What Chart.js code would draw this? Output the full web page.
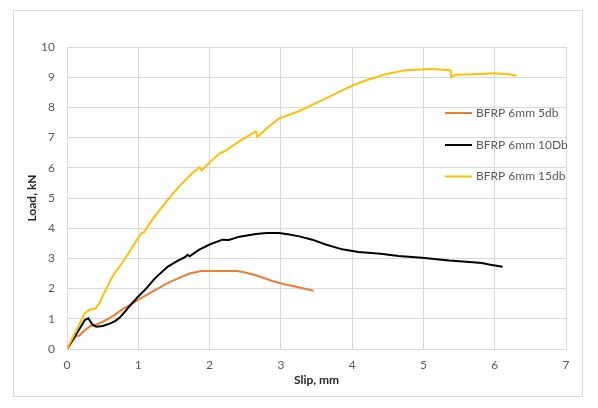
<!DOCTYPE html>
<html>
<head>
<meta charset="utf-8">
<script src="https://cdn.jsdelivr.net/npm/chart.js@4.4.0/dist/chart.umd.min.js"></script>
<style>
html,body{margin:0;padding:0;background:#fff;}
#wrap{width:598px;height:408px;}
</style>
</head>
<body>
<div id="wrap"><canvas id="c" width="598" height="408"></canvas></div>
<script>
// ---- data ----
const seriesLabels = ["BFRP 6mm 5db", "BFRP 6mm 10Db", "BFRP 6mm 15db"];
const seriesColors = ["#ED7D31", "#000000", "#FFC000"];

const slip5 = [0,0.11,0.13,0.17,0.25,0.32,0.42,0.5,0.6,0.67,0.75,0.88,1.0,1.16,1.3,1.41,1.55,1.72,1.88,2.1,2.39,2.5,2.65,2.75,2.88,3.02,3.2,3.46];
const load5 = [0,0.36,0.43,0.44,0.62,0.75,0.82,0.9,1.03,1.13,1.27,1.45,1.63,1.85,2.03,2.18,2.33,2.5,2.58,2.58,2.58,2.53,2.44,2.36,2.25,2.16,2.07,1.93];

const slip10 = [0,0.1,0.2,0.25,0.3,0.33,0.36,0.41,0.5,0.6,0.68,0.74,0.8,0.88,0.94,1.0,1.11,1.23,1.41,1.55,1.66,1.69,1.72,1.85,2.0,2.18,2.27,2.42,2.65,2.8,2.97,3.1,3.26,3.44,3.63,3.86,4.09,4.4,4.65,4.98,5.36,5.6,5.82,5.92,6.11];
const load10 = [0,0.38,0.76,0.96,1.02,0.9,0.8,0.74,0.76,0.84,0.93,1.04,1.2,1.43,1.58,1.74,2.0,2.33,2.72,2.92,3.05,3.12,3.07,3.28,3.46,3.62,3.61,3.72,3.81,3.84,3.84,3.8,3.73,3.62,3.46,3.3,3.21,3.15,3.08,3.02,2.93,2.89,2.85,2.8,2.72];

const slip15 = [0,0.1,0.2,0.25,0.3,0.34,0.4,0.45,0.5,0.64,0.81,0.95,1.04,1.08,1.2,1.44,1.6,1.75,1.86,1.89,2.0,2.14,2.23,2.4,2.65,2.67,2.8,2.97,3.26,3.5,4.0,4.2,4.47,4.75,5.12,5.38,5.39,5.45,5.7,6.0,6.2,6.31];
const load15 = [0,0.47,0.95,1.19,1.27,1.32,1.34,1.5,1.75,2.41,2.97,3.5,3.82,3.87,4.3,5.02,5.45,5.8,6.02,5.91,6.18,6.47,6.58,6.85,7.21,7.02,7.3,7.63,7.88,8.15,8.72,8.9,9.1,9.23,9.27,9.23,9.0,9.08,9.1,9.13,9.1,9.05];

const xTickMin = 0, xTickMax = 7, xStep = 1;
const yTickMin = 0, yTickMax = 10, yStep = 1;
const xTitle = "Slip, mm";
const yTitle = "Load, kN";

// ---- build ----
function pts(xs, ys){ return xs.map((x,i)=>({x:x, y:ys[i]})); }
const allX = [slip5, slip10, slip15];
const allY = [load5, load10, load15];
const drawOrder = [2,1,0];

const datasets = seriesLabels.map((lab,i)=>({
  label: lab,
  data: pts(allX[i], allY[i]),
  borderColor: seriesColors[i],
  backgroundColor: seriesColors[i],
  borderWidth: 2,
  pointRadius: 0,
  showLine: true,
  tension: 0,
  fill: false,
  order: drawOrder[i]
}));

const FONT = "Lato, 'Open Sans', sans-serif";

const frame = {
  id: 'frame',
  beforeDraw(chart){
    const ctx = chart.ctx;
    ctx.save();
    ctx.fillStyle = '#ffffff';
    ctx.fillRect(0,0,chart.width,chart.height);
    ctx.strokeStyle = '#d9d9d9';
    ctx.lineWidth = 1;
    ctx.strokeRect(13.5,10.5,569,386);
    ctx.restore();
  }
};

const legendBox = {
  id: 'legendBox',
  afterDraw(chart){
    const ctx = chart.ctx;
    const ys = [113, 145, 176.5];
    ctx.save();
    ctx.font = "12px " + FONT;
    ctx.textBaseline = 'middle';
    ctx.textAlign = 'left';
    chart.data.datasets.forEach((ds,i)=>{
      ctx.strokeStyle = ds.borderColor;
      ctx.lineWidth = 2;
      ctx.beginPath();
      ctx.moveTo(445, ys[i]);
      ctx.lineTo(472, ys[i]);
      ctx.stroke();
      ctx.fillStyle = '#595959';
      ctx.fillText(ds.label, 476, ys[i]);
    });
    ctx.restore();
  }
};

new Chart(document.getElementById('c'), {
  type: 'scatter',
  data: { datasets },
  plugins: [frame, legendBox],
  options: {
    responsive: false,
    animation: false,
    devicePixelRatio: 1,
    layout: { padding: { top: 47, right: 32, left: 0, bottom: 0 } },
    plugins: { legend: { display: false }, tooltip: { enabled: false } },
    scales: {
      x: {
        type: 'linear', min: xTickMin, max: xTickMax,
        ticks: { stepSize: xStep, color: '#595959', font: { family: FONT, size: 12 }, padding: 9 },
        grid: { color: '#d9d9d9', drawTicks: false, lineWidth: 1 },
        border: { color: '#d9d9d9' },
        title: { display: true, text: xTitle, color: '#262626', font: { family: FONT, size: 12, weight: 'bold' }, padding: { top: 0, bottom: 21 } },
        afterFit(scale){ scale.height = 59; }
      },
      y: {
        type: 'linear', min: yTickMin, max: yTickMax,
        ticks: { stepSize: yStep, color: '#595959', font: { family: FONT, size: 12 }, padding: 12 },
        grid: { color: '#d9d9d9', drawTicks: false, lineWidth: 1 },
        border: { color: '#d9d9d9' },
        title: { display: true, text: yTitle, color: '#262626', font: { family: FONT, size: 12, weight: 'bold' }, padding: { top: 25, bottom: 0 } },
        afterFit(scale){ scale.width = 67; }
      }
    }
  }
});
</script>
</body>
</html>
